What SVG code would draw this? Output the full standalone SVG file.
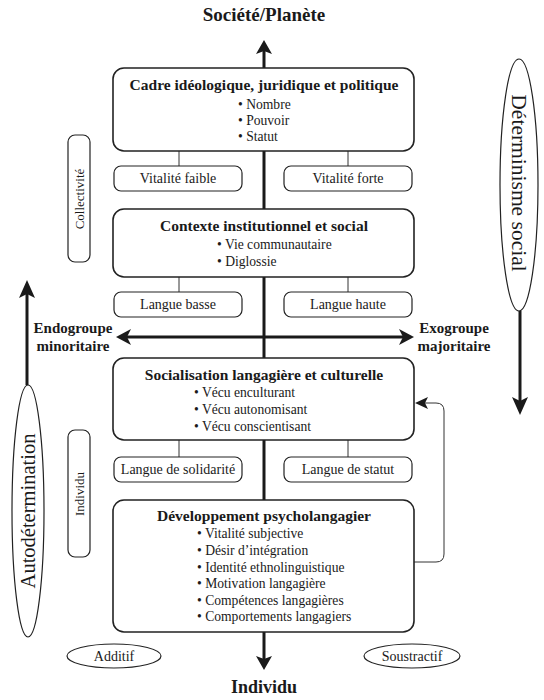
<svg xmlns="http://www.w3.org/2000/svg" width="544" height="700" viewBox="0 0 544 700">
<style>
  text { font-family: "Liberation Serif", "DejaVu Serif", "Noto Serif", serif; fill: #1a1a1a; }
  .h { font-weight: bold; font-size: 15.5px; text-anchor: middle; }
  .b { font-size: 13.6px; }
  .s { font-size: 14px; text-anchor: middle; }
  .v { font-size: 13px; text-anchor: middle; }
  .big { font-weight: bold; font-size: 19px; text-anchor: middle; }
  .side { font-weight: bold; font-size: 15px; text-anchor: middle; }
  .vert { font-size: 20.5px; text-anchor: middle; }
  .box { fill: #fff; stroke: #222; stroke-width: 1.6; }
  .sbox { fill: #fff; stroke: #222; stroke-width: 1.2; }
  .thin { stroke: #333; stroke-width: 1; fill: none; }
  .thick { stroke: #1a1a1a; stroke-width: 3; fill: none; }
  .head { fill: #1a1a1a; }
</style>

<g id="connectors">
  <line class="thick" x1="264" y1="50" x2="264" y2="660"/>
  <polygon class="head" points="264,40 272,54 264,51 256,54"/>
  <polygon class="head" points="264,670 272,656 264,659 256,656"/>
  <line class="thick" x1="126" y1="337" x2="404" y2="337"/>
  <polygon class="head" points="116,337 131,329 127,337 131,345"/>
  <polygon class="head" points="414,337 399,329 403,337 399,345"/>
  <line class="thin" x1="179" y1="151" x2="179" y2="166"/>
  <line class="thin" x1="348" y1="151" x2="348" y2="166"/>
  <line class="thin" x1="179" y1="277" x2="179" y2="292"/>
  <line class="thin" x1="348" y1="277" x2="348" y2="292"/>
  <line class="thin" x1="179" y1="440" x2="179" y2="457"/>
  <line class="thin" x1="348" y1="440" x2="348" y2="457"/>
  <path class="thin" d="M414,562 H436 Q444,562 444,554 V411 Q444,403 436,403 H424" stroke-width="1.3"/>
  <polygon class="head" points="415,403 428,397 425,403 428,409"/>
  <line class="thick" x1="27" y1="292" x2="27" y2="385"/>
  <polygon class="head" points="27,280 35,298 27,294 19,298"/>
  <line class="thick" x1="520" y1="311" x2="520" y2="402"/>
  <polygon class="head" points="520,415 528,397 520,401 512,397"/>
</g>

<g id="title-top"><text class="big" x="264" y="21">Société/Planète</text></g>
<g id="title-bottom"><text class="big" x="264" y="693" style="font-size:18px">Individu</text></g>

<g id="cadre">
  <rect class="box" x="113" y="68" width="301" height="83" rx="11"/>
  <text class="h" x="264" y="90">Cadre idéologique, juridique et politique</text>
  <text class="b" x="238" y="109">• Nombre</text>
  <text class="b" x="238" y="125">• Pouvoir</text>
  <text class="b" x="238" y="141">• Statut</text>
</g>

<g id="vitalite-faible">
  <rect class="sbox" x="114" y="166" width="128" height="25" rx="7"/>
  <text class="s" x="178" y="183">Vitalité faible</text>
</g>
<g id="vitalite-forte">
  <rect class="sbox" x="284" y="166" width="128" height="25" rx="7"/>
  <text class="s" x="348" y="183">Vitalité forte</text>
</g>

<g id="contexte">
  <rect class="box" x="113" y="209" width="301" height="68" rx="11"/>
  <text class="h" x="264" y="231">Contexte institutionnel et social</text>
  <text class="b" x="217" y="249">• Vie communautaire</text>
  <text class="b" x="217" y="266">• Diglossie</text>
</g>

<g id="langue-basse">
  <rect class="sbox" x="114" y="292" width="128" height="25" rx="7"/>
  <text class="s" x="178" y="309">Langue basse</text>
</g>
<g id="langue-haute">
  <rect class="sbox" x="284" y="292" width="128" height="25" rx="7"/>
  <text class="s" x="348" y="309">Langue haute</text>
</g>

<g id="endogroupe">
  <text class="side" x="73" y="333">Endogroupe</text>
  <text class="side" x="73" y="351">minoritaire</text>
</g>
<g id="exogroupe">
  <text class="side" x="454" y="333">Exogroupe</text>
  <text class="side" x="454" y="351">majoritaire</text>
</g>

<g id="socialisation">
  <rect class="box" x="113" y="358" width="301" height="82" rx="11"/>
  <text class="h" x="264" y="380">Socialisation langagière et culturelle</text>
  <text class="b" x="194" y="397">• Vécu enculturant</text>
  <text class="b" x="194" y="414">• Vécu autonomisant</text>
  <text class="b" x="194" y="431">• Vécu conscientisant</text>
</g>

<g id="langue-solidarite">
  <rect class="sbox" x="114" y="457" width="128" height="25" rx="7"/>
  <text class="s" x="178" y="474">Langue de solidarité</text>
</g>
<g id="langue-statut">
  <rect class="sbox" x="284" y="457" width="128" height="25" rx="7"/>
  <text class="s" x="348" y="474">Langue de statut</text>
</g>

<g id="developpement">
  <rect class="box" x="113" y="500" width="301" height="132" rx="11"/>
  <text class="h" x="264" y="521">Développement psycholangagier</text>
  <text class="b" x="197" y="538">• Vitalité subjective</text>
  <text class="b" x="197" y="555">• Désir d’intégration</text>
  <text class="b" x="197" y="572">• Identité ethnolinguistique</text>
  <text class="b" x="197" y="588">• Motivation langagière</text>
  <text class="b" x="197" y="605">• Compétences langagières</text>
  <text class="b" x="197" y="621">• Comportements langagiers</text>
</g>

<g id="collectivite">
  <rect class="sbox" x="68" y="135" width="22" height="127" rx="7"/>
  <text class="v" transform="translate(83.5,199) rotate(-90)" x="0" y="0">Collectivité</text>
</g>
<g id="individu-side">
  <rect class="sbox" x="68" y="430" width="22" height="127" rx="7"/>
  <text class="v" transform="translate(83.5,494) rotate(-90)" x="0" y="0">Individu</text>
</g>

<g id="autodetermination">
  <ellipse class="sbox" cx="28" cy="511" rx="16" ry="126"/>
  <text class="vert" transform="translate(35,511) rotate(-90)" x="0" y="0">Autodétermination</text>
</g>
<g id="determinisme">
  <ellipse class="sbox" cx="519" cy="185" rx="19" ry="126"/>
  <text class="vert" transform="translate(512,183) rotate(90)" x="0" y="0" style="font-size:21.5px">Déterminisme social</text>
</g>

<g id="additif">
  <ellipse class="sbox" cx="114" cy="656" rx="47" ry="12"/>
  <text class="s" x="114" y="661">Additif</text>
</g>
<g id="soustractif">
  <ellipse class="sbox" cx="412" cy="656" rx="48" ry="12"/>
  <text class="s" x="412" y="661">Soustractif</text>
</g>
</svg>
